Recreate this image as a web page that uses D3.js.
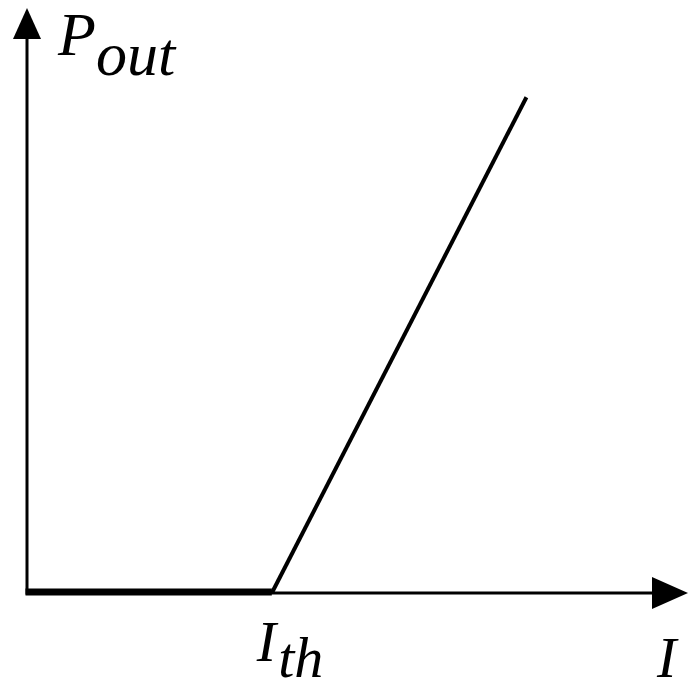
<!DOCTYPE html>
<html><head><meta charset="utf-8">
<script src="https://cdn.jsdelivr.net/npm/d3@7"></script>
<style>html,body{margin:0;padding:0;background:#fff;}svg{display:block;}</style>
</head><body>
<script>
// Data: laser output power vs current (threshold characteristic)
const current = [0, 1, 2.04];   // I (in units of I_th)
const power   = [0, 0, 1];      // P_out (normalized)
const xLabels = ["I_th", "I"];
const yLabel  = "P_out";

const W = 688, H = 690;
const svg = d3.select("body").append("svg").attr("width", W).attr("height", H);

const x = d3.scaleLinear().domain([0, 2.7]).range([27, 688]);
const y = d3.scaleLinear().domain([0, 1.18]).range([593, 8]);

// axes lines
svg.append("line").attr("x1", x(0)).attr("y1", y(0)).attr("x2", x(2.7) - 30).attr("y2", y(0))
  .attr("stroke", "#000").attr("stroke-width", 3);
svg.append("line").attr("x1", x(0)).attr("y1", y(0) + 1.5).attr("x2", x(0)).attr("y2", y(1.18) + 25)
  .attr("stroke", "#000").attr("stroke-width", 3);

// arrowheads
svg.append("path")
  .attr("d", `M${x(2.7)},${y(0)} L${x(2.7) - 36},${y(0) - 16} L${x(2.7) - 36},${y(0) + 16} Z`)
  .attr("fill", "#000");
svg.append("path")
  .attr("d", `M${x(0)},${y(1.18)} L${x(0) - 14},${y(1.18) + 31} L${x(0) + 14},${y(1.18) + 31} Z`)
  .attr("fill", "#000");

// characteristic curve
const pts = current.map((c, i) => [x(c), y(power[i])]);
// below threshold (thick, on axis)
svg.append("line").attr("x1", pts[0][0] - 1.5).attr("y1", pts[0][1] - 1).attr("x2", pts[1][0]).attr("y2", pts[1][1] - 1)
  .attr("stroke", "#000").attr("stroke-width", 7);
svg.append("path")
  .attr("d", d3.line()([pts[1], pts[2]]))
  .attr("fill", "none").attr("stroke", "#000").attr("stroke-width", 4);

const font = "'Liberation Serif','Times New Roman',serif";

function subLabel(px, py, main, sub, size, dx, dy) {
  const t = svg.append("text").attr("x", px).attr("y", py)
    .attr("font-family", font).attr("font-style", "italic").attr("font-size", size).attr("fill", "#000");
  t.append("tspan").text(main);
  if (sub) t.append("tspan").attr("dx", dx).attr("dy", dy).text(sub);
}
const [ym, ys] = yLabel.split("_");
subLabel(58, 55, ym, ys, 62, 0, 20);
const [xm, xs] = xLabels[0].split("_");
subLabel(x(current[1]) - 15, 661, xm, xs, 58, 2, 16);
subLabel(x(2.7) - 31, 677, xLabels[1], null, 58, 0, 0);
</script>
</body></html>
